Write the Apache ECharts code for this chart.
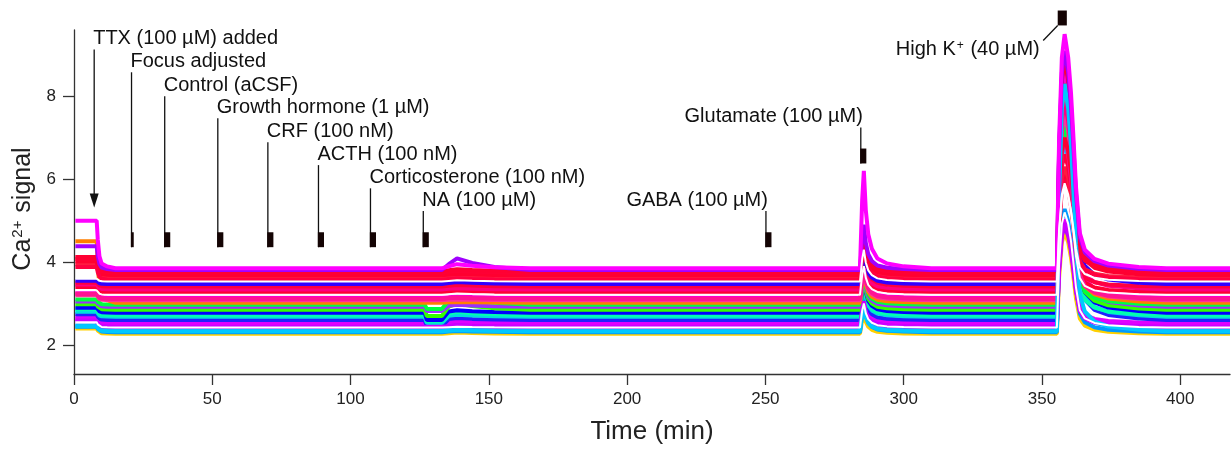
<!DOCTYPE html>
<html>
<head>
<meta charset="utf-8">
<script src="https://cdn.jsdelivr.net/npm/echarts@6/dist/echarts.min.js"></script>
<style>
  html, body { margin: 0; padding: 0; background: #fff; }
  #chart { width: 1232px; height: 450px; }
</style>
</head>
<body>
<div id="chart"></div>
<script>
// ---- data ----
const xTicks = [0, 50, 100, 150, 200, 250, 300, 350, 400];
const yTicks = [2, 4, 6, 8];

// one entry per cell trace (last three are the white traces)
const traceColors = ['#ffd000', '#0099ff', '#1aa3ff', '#b000ff', '#e000ff', '#2020ff', '#00dede', '#00ffb0',
  '#0000ff', '#33ff00', '#9a30ff', '#00ff40', '#ff7f00', '#ff3399', '#ff00cc', '#ff0033', '#ff0080',
  '#ff0040', '#3300ff', '#ff1a40', '#ff0030', '#ff0035',
  '#ff0040', '#ff1493', '#cc00ff', '#ff0033', '#00c8ff',
  '#a000ff', '#ff00ff', '#ffffff', '#ffffff', '#ffffff'];
const baseline = [2.27, 2.31, 2.36, 2.48, 2.53, 2.60, 2.68, 2.72, 2.78, 2.85, 2.92, 2.97, 3.02, 3.08, 3.14,
  3.27, 3.34, 3.41, 3.47, 3.61, 3.68, 3.74,
  3.57, 3.11, 2.44, 3.78, 2.33,
  3.81, 3.85, 3.53, 3.21, 2.42];
const preTTX = [2.40, 2.44, 2.47, 2.62, 2.68, 2.74, 2.80, 2.86, 2.90, 2.98, 3.05, 3.10, 4.50, 3.20, 3.26,
  3.40, 3.46, 3.50, 3.55, 3.95, 4.02, 4.08,
  3.88, 3.23, 2.58, 4.12, 2.45,
  4.38, 5.00, 3.60, 3.32, 2.55];
const naDip = [0, 0, 0, 0, 0, -0.15, -0.15, -0.15, -0.18, -0.15, -0.10, -0.10, 0, 0, 0,
  0, 0, 0, 0, 0, 0, 0,
  0, 0, 0, 0, 0,
  0, 0, 0, 0, 0];
const naBump = [0.03, 0.03, 0.03, 0.03, 0.04, 0.05, 0.05, 0.08, 0.06, 0.15, 0.05, 0.20, 0.02, 0.02, 0.03,
  0.03, 0.03, 0.04, 0.05, 0.04, 0.04, 0.05,
  0.04, 0.03, 0.03, 0.05, 0.03,
  0.28, 0.10, 0.03, 0.03, 0.02];
const gluPeak = [2.75, 2.95, 3.00, 3.10, 3.25, 3.30, 3.45, 3.50, 3.60, 3.60, 3.65, 3.70, 3.75, 3.80, 3.90,
  4.00, 4.10, 4.30, 4.25, 4.50, 4.50, 4.60,
  4.40, 3.85, 3.05, 4.70, 2.90,
  4.90, 6.20, 4.30, 3.90, 3.00];
const kPeak = [4.72, 5.28, 6.95, 4.87, 5.03, 8.80, 8.60, 7.30, 9.00, 8.30, 8.80, 7.27, 8.00, 7.60, 8.60,
  6.20, 7.85, 6.00, 9.00, 6.30, 8.30, 8.90,
  6.60, 7.00, 4.95, 7.00, 8.30,
  9.10, 9.50, 5.80, 5.90, 5.20];

// shared time course of each response (fraction of the response amplitude)
const ttxTimes = [0.5, 8.2, 8.6, 9.2, 10, 12, 15];
const ttxShape = [1, 1, 0.6, 0.25, 0.1, 0.04, 0];
const naTimes = [126.8, 127.6, 133, 135.5, 138.5, 144, 152, 165];
const naDipShape = [0, 1, 1, 0, 0, 0, 0, 0];
const naBumpShape = [0, 0, 0, 0.5, 1, 0.6, 0.25, 0];
const gluTimes = [284.2, 285.0, 285.6, 286.3, 287.2, 288.5, 290.5, 294, 300, 310];
const gluShape = [0, 0.7, 1, 0.6, 0.35, 0.2, 0.1, 0.05, 0.02, 0];
const kTimes = [355.4, 356.2, 357.2, 358.2, 359.5, 360.5, 361.3, 362.3, 363.7, 365.5, 369, 374, 385, 395];
const kShape = [0, 0.55, 0.9, 1, 0.9, 0.75, 0.58, 0.35, 0.15, 0.08, 0.04, 0.02, 0.006, 0];
const endTime = 418;

// drug applications
const eventNames = ['TTX (100 µM) added', 'Focus adjusted', 'Control (aCSF)', 'Growth hormone (1 µM)',
  'CRF (100 nM)', 'ACTH (100 nM)', 'Corticosterone (100 nM)', 'NA (100 µM)', 'GABA (100 µM)', 'Glutamate (100 µM)'];
const eventTimes = [7.3, 20.8, 32.8, 52.0, 70.1, 88.4, 107.2, 126.3, 250.2, 284.5];
const eventTops = [9.13, 8.58, 8.0, 7.47, 6.89, 6.34, 5.78, 5.23, 5.23, 7.25];
const eventBarLevel = [5.32, 4.36, 4.36, 4.36, 4.36, 4.36, 4.36, 4.36, 4.36, 6.38];
const eventDuration = [0, 0.8, 2, 2, 2, 2, 2, 2, 2, 2];
const highK = { name: 'High K', time: 355.7, duration: 3.3, level: 9.71 };

const FONT = '"Liberation Sans", Arial, sans-serif';

function buildTrace(k) {
  const b = baseline[k];
  const pts = [];
  ttxTimes.forEach((t, i) => pts.push([t, b + (preTTX[k] - b) * ttxShape[i]]));
  naTimes.forEach((t, i) => pts.push([t, b + naDip[k] * naDipShape[i] + naBump[k] * naBumpShape[i]]));
  gluTimes.forEach((t, i) => pts.push([t, b + (gluPeak[k] - b) * gluShape[i]]));
  kTimes.forEach((t, i) => pts.push([t, b + (kPeak[k] - b) * kShape[i]]));
  pts.push([endTime, b]);
  return pts;
}

const traceSeries = traceColors.map((c, k) => ({
  type: 'line',
  data: buildTrace(k),
  showSymbol: false,
  symbol: 'none',
  silent: true,
  z: 2,
  lineStyle: { color: c, width: c === '#ffffff' ? 2 : 4 },
}));

const eventSeries = {
  type: 'custom',
  clip: false,
  silent: true,
  z: 5,
  data: eventTimes.map((t, i) => [t, eventTops[i]]),
  renderItem: (params, api) => {
    const i = params.dataIndex;
    const t = api.value(0);
    const p = api.coord([t, api.value(1)]);
    const right = t > 200;
    const kids = [{
      type: 'text',
      style: { text: eventNames[i], x: right ? p[0] + 2 : p[0] - 1, y: p[1] - 11, align: right ? 'right' : 'left',
        verticalAlign: 'middle', font: '20px ' + FONT, fill: '#111' },
    }];
    const pb = api.coord([t, eventBarLevel[i]]);
    if (i === 0) {
      kids.push({ type: 'line', shape: { x1: p[0], y1: p[1], x2: p[0], y2: pb[1] - 12 }, style: { stroke: '#111', lineWidth: 1.3 } });
      kids.push({ type: 'polygon', shape: { points: [[p[0] - 4.5, pb[1] - 14], [p[0] + 4.5, pb[1] - 14], [p[0], pb[1]]] }, style: { fill: '#111' } });
    } else {
      kids.push({ type: 'line', shape: { x1: p[0], y1: p[1], x2: p[0], y2: pb[1] }, style: { stroke: '#111', lineWidth: 1.3 } });
      const pt = api.coord([t + eventDuration[i], eventBarLevel[i] + 0.36]);
      kids.push({ type: 'rect', shape: { x: p[0] - 0.6, y: pt[1], width: pt[0] - p[0] + 0.6, height: pb[1] - pt[1] }, style: { fill: '#140404' } });
    }
    return { type: 'group', children: kids };
  },
};

const highKSeries = {
  type: 'custom',
  clip: false,
  silent: true,
  z: 5,
  data: [[highK.time, highK.level]],
  renderItem: (params, api) => {
    const pb = api.coord([highK.time, highK.level]);
    const pt = api.coord([highK.time + highK.duration, highK.level + 0.36]);
    return {
      type: 'group',
      children: [
        { type: 'rect', shape: { x: pb[0], y: pt[1], width: pt[0] - pb[0], height: pb[1] - pt[1] }, style: { fill: '#140404' } },
        { type: 'line', shape: { x1: pb[0], y1: pb[1], x2: pb[0] - 14.5, y2: pb[1] + 15 }, style: { stroke: '#111', lineWidth: 1.3 } },
        { type: 'text', style: { text: 'High K{sup|+} (40 µM)', x: pb[0] - 18, y: pb[1] + 24, align: 'right', verticalAlign: 'middle',
          font: '20px ' + FONT, fill: '#111', rich: { sup: { fontSize: 12, fontFamily: FONT, verticalAlign: 'top', padding: [0, 1, 8, 1] } } } },
      ],
    };
  },
};

const chart = echarts.init(document.getElementById('chart'), null, { renderer: 'canvas' });
chart.setOption({
  animation: false,
  backgroundColor: '#fff',
  grid: { left: 74, right: 2, top: 30, bottom: 75 },
  xAxis: {
    type: 'value', min: 0, max: endTime,
    name: 'Time (min)', nameLocation: 'middle', nameGap: 45,
    nameTextStyle: { fontSize: 26, color: '#222', fontFamily: FONT },
    axisLine: { show: true, onZero: false, lineStyle: { color: '#333', width: 1.3 } },
    axisTick: { show: true, length: 11, customValues: xTicks, lineStyle: { color: '#333', width: 1.3 } },
    axisLabel: { customValues: xTicks, fontSize: 17, color: '#222', fontFamily: FONT, margin: 17 },
    splitLine: { show: false },
  },
  yAxis: {
    type: 'value', min: 1.3, max: 9.6,
    name: 'Ca{sup|2+} signal', nameLocation: 'middle', nameGap: 38, nameRotate: 90,
    nameTextStyle: { fontSize: 25, color: '#222', fontFamily: FONT, padding: [0, 14, 0, 0],
      rich: { sup: { fontSize: 15, fontFamily: FONT, color: '#222', verticalAlign: 'top', padding: [0, 1, 10, 1] } } },
    axisLine: { show: true, onZero: false, lineStyle: { color: '#333', width: 1.3 } },
    axisTick: { show: true, length: 11, customValues: yTicks, lineStyle: { color: '#333', width: 1.3 } },
    axisLabel: { customValues: yTicks, fontSize: 17, color: '#222', fontFamily: FONT, margin: 18 },
    splitLine: { show: false },
  },
  series: [...traceSeries, eventSeries, highKSeries],
});
</script>
</body>
</html>
